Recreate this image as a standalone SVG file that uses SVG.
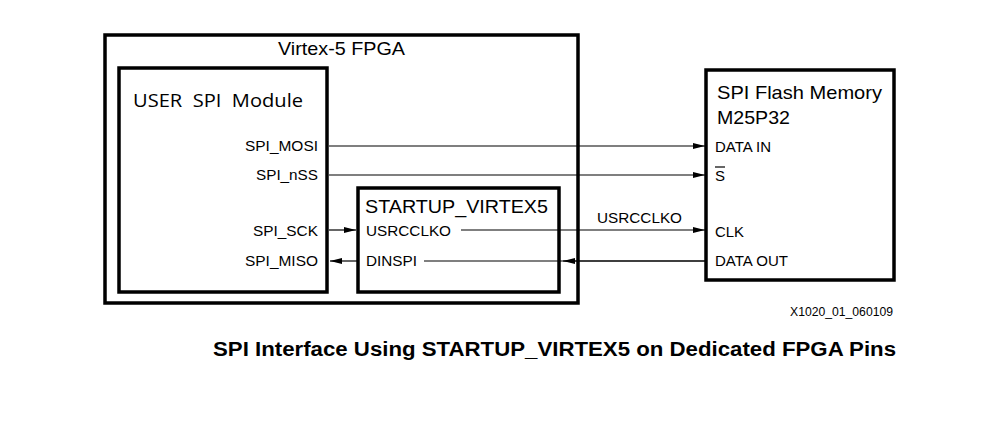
<svg xmlns="http://www.w3.org/2000/svg" width="1001" height="423" viewBox="0 0 1001 423">
<style>
.box{fill:none;stroke:#000;stroke-width:3.5}
.t{font-family:"Liberation Sans",Arial,sans-serif;fill:#000}
.lbl{font-size:15px}
.ttl{font-size:19px}
.w{stroke:#000;stroke-width:1.2;fill:none}
</style>
<defs>
<marker id="ah" markerWidth="12" markerHeight="8" refX="12" refY="4" orient="auto" markerUnits="userSpaceOnUse">
<path d="M0,0.9 L12,4 L0,7.1 Z" fill="#000"/>
</marker>
</defs>
<rect width="1001" height="423" fill="#fff"/>
<g id="fpga">
<rect class="box" x="105" y="35" width="473" height="268"/>
<text class="t ttl" x="278" y="55" textLength="127" lengthAdjust="spacingAndGlyphs">Virtex-5 FPGA</text>
</g>
<g id="user">
<rect class="box" x="119" y="68" width="208" height="224"/>
<text x="133" y="107" font-family="'Open Sans','Noto Sans',sans-serif" font-size="18.5" textLength="170" lengthAdjust="spacingAndGlyphs" xml:space="preserve">USER  SPI  Module</text>
<text class="t lbl" x="245" y="151" textLength="73" lengthAdjust="spacingAndGlyphs">SPI_MOSI</text>
<text class="t lbl" x="256" y="180" textLength="62" lengthAdjust="spacingAndGlyphs">SPI_nSS</text>
<text class="t lbl" x="253" y="236" textLength="65" lengthAdjust="spacingAndGlyphs">SPI_SCK</text>
<text class="t lbl" x="245" y="266" textLength="73" lengthAdjust="spacingAndGlyphs">SPI_MISO</text>
</g>
<g id="startup">
<rect class="box" x="358" y="188" width="201" height="104"/>
<text class="t ttl" x="365" y="213" textLength="183" lengthAdjust="spacingAndGlyphs">STARTUP_VIRTEX5</text>
<text class="t lbl" x="366" y="236" textLength="85" lengthAdjust="spacingAndGlyphs">USRCCLKO</text>
<text class="t lbl" x="366" y="266" textLength="51" lengthAdjust="spacingAndGlyphs">DINSPI</text>
</g>
<g id="flash">
<rect class="box" x="706" y="70" width="188" height="210"/>
<text class="t ttl" x="717" y="99" textLength="165" lengthAdjust="spacingAndGlyphs">SPI Flash Memory</text>
<text class="t ttl" x="717" y="124" textLength="73" lengthAdjust="spacingAndGlyphs">M25P32</text>
<text class="t lbl" x="715" y="152" textLength="56" lengthAdjust="spacingAndGlyphs">DATA IN</text>
<text class="t lbl" x="715" y="181">S</text>
<line x1="715" y1="167" x2="725" y2="167" stroke="#000" stroke-width="1.2"/>
<text class="t lbl" x="715" y="237" textLength="29" lengthAdjust="spacingAndGlyphs">CLK</text>
<text class="t lbl" x="715" y="266" textLength="73" lengthAdjust="spacingAndGlyphs">DATA OUT</text>
</g>
<g id="connectors">
<line class="w" x1="329" y1="146" x2="705" y2="146" marker-end="url(#ah)"/>
<line class="w" x1="329" y1="175" x2="705" y2="175" marker-end="url(#ah)"/>
<line class="w" x1="329" y1="230" x2="356" y2="230" marker-end="url(#ah)"/>
<line class="w" x1="461" y1="230" x2="705" y2="230" marker-end="url(#ah)"/>
<line class="w" x1="357" y1="261" x2="330" y2="261" marker-end="url(#ah)"/>
<line class="w" x1="424" y1="261" x2="705" y2="261"/>
<line class="w" x1="705" y1="261" x2="563" y2="261" marker-end="url(#ah)"/>
<text class="t lbl" x="597" y="223" textLength="85" lengthAdjust="spacingAndGlyphs">USRCCLKO</text>
</g>
<text class="t" x="790" y="316" font-size="12" textLength="103" lengthAdjust="spacingAndGlyphs">X1020_01_060109</text>
<text class="t" x="213" y="356" font-size="20" font-weight="bold" textLength="683" lengthAdjust="spacingAndGlyphs">SPI Interface Using STARTUP_VIRTEX5 on Dedicated FPGA Pins</text>
</svg>
